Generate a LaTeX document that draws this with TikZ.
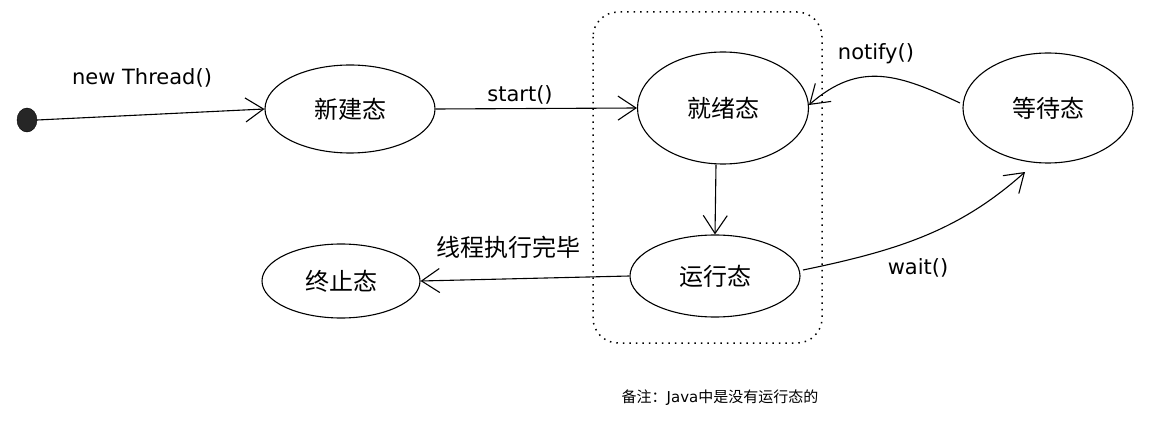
\documentclass[tikz,border=0pt]{standalone}
\usepackage{fontspec}
\setmainfont{DejaVu Sans}
\newfontfamily\cjk{Noto Sans CJK SC}
\usetikzlibrary{arrows.meta,shapes.geometric}
\begin{document}
\begin{tikzpicture}[x=1pt,y=-1pt,
  st/.style={draw, ellipse, line width=1.1pt, inner sep=0pt, font=\cjk\fontsize{24}{24}\selectfont},
  arr/.style={line width=1.1pt, -{Straight Barb[length=18pt,width=24pt,line width=1.1pt]}},
  lbl/.style={font=\fontsize{21}{21}\selectfont},
]
\useasboundingbox (0,0) rectangle (1157,422);
\draw[line width=1.5pt, dash pattern=on 1.5pt off 5pt, rounded corners=25pt] (593,12) rectangle (822,343);
\node[st, minimum width=170pt, minimum height=88pt] (new) at (350,109) {新建态};
\node[st, minimum width=171pt, minimum height=112pt] (ready) at (723,108) {就绪态};
\node[st, minimum width=170pt, minimum height=82pt] (run) at (715,276) {运行态};
\node[st, minimum width=158pt, minimum height=74pt] (term) at (341,281) {终止态};
\node[st, minimum width=170pt, minimum height=110pt] (wait) at (1048,108) {等待态};
\node[draw, fill=black!85, ellipse, minimum width=20pt, minimum height=24pt, inner sep=0pt] (dot) at (27,120) {};
\draw[arr] (dot.east) -- (new.west);
\node[lbl] (lnew) at (142,78) {new Thread()};
\draw[arr] (new.east) -- (ready.west);
\node[lbl] (lstart) at (520,95) {start()};
\draw[arr] ([xshift=-7pt]ready.south) -- (run.north);
\draw[arr] (run.west) -- (term.east);
\node[font=\cjk\fontsize{24}{24}\selectfont] (lend) at (508,247) {线程执行完毕};
\coordinate (ws) at (803,270);
\coordinate (we) at (1025,172);
\draw[arr] (ws) .. controls (900,250) and (960,230) .. (we);
\node[lbl] (lwait) at (918,268) {wait()};
\coordinate (ns) at (960,103);
\coordinate (ne) at (809,105);
\draw[arr] (ns) .. controls (900,75) and (860,60) .. (ne);
\node[lbl] (lnot) at (876,54) {notify()};
\node[font=\fontsize{15}{15}\selectfont] (note) at (720,398) {{\cjk 备注：}Java{\cjk 中是没有运行态的}};
\end{tikzpicture}
\end{document}
